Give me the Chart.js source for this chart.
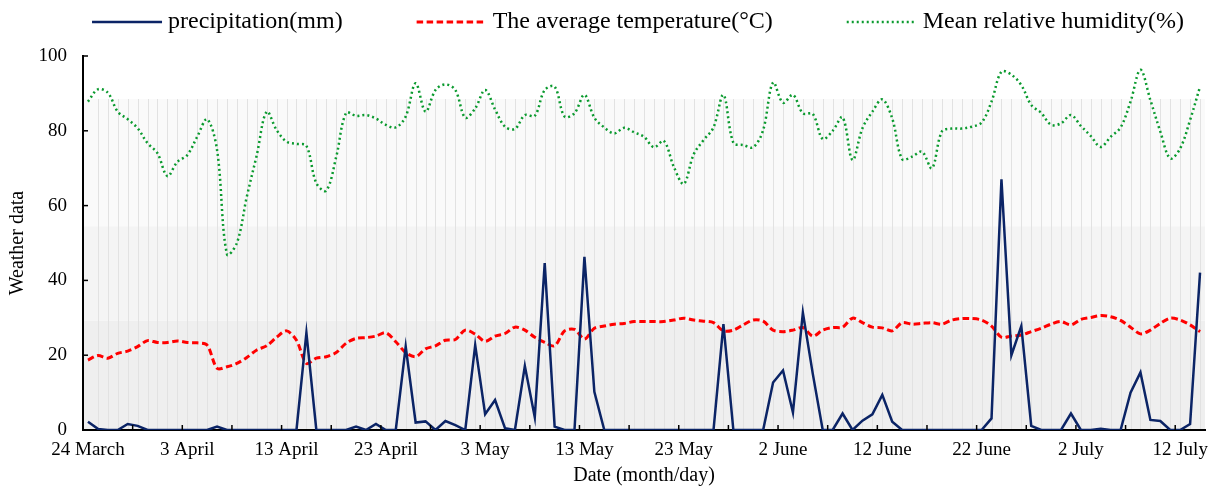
<!DOCTYPE html>
<html>
<head>
<meta charset="utf-8">
<script src="https://cdn.jsdelivr.net/npm/chart.js@4.4.1/dist/chart.umd.min.js"></script>
<style>
  html, body { margin: 0; padding: 0; background: #fff; }
  #wrap { width: 1213px; height: 488px; }
</style>
</head>
<body>
<div id="wrap"><canvas id="weatherChart"></canvas></div>
<script>
// 일별 기상 자료 (24 March ~ 14 July)
const months = [['March', 31], ['April', 30], ['May', 31], ['June', 30], ['July', 31]];
const dayCount = 113;

// precipitation(mm)
const precipitation = [
  2.2, 0.3, 0, 0, 1.6, 1.1, 0, 0, 0, 0,
  0, 0, 0, 0.9, 0, 0, 0, 0, 0, 0,
  0, 0, 26, 0, 0, 0, 0, 0.9, 0, 1.6,
  0, 0, 22.3, 2.0, 2.3, 0, 2.4, 1.3, 0, 22.7,
  4.2, 8.0, 0.5, 0, 17.1, 3.4, 44.6, 0.9, 0, 0,
  46.3, 10.2, 0, 0, 0, 0, 0, 0, 0, 0,
  0, 0, 0, 0, 28.3, 0, 0, 0, 0, 12.7,
  15.9, 4.7, 31.4, 15, 0, 0, 4.4, 0, 2.5, 4.2,
  9.4, 2.2, 0, 0, 0, 0, 0, 0, 0, 0,
  0, 3.1, 67, 20, 27.8, 1.1, 0, 0, 0, 4.4,
  0, 0, 0.3, 0, 0, 10.0, 15.4, 2.7, 2.4, 0,
  0, 1.6, 42.1
];

// The average temperature(°C)
const temperature = [
  18.7, 19.9, 19.2, 20.5, 21.1, 22.3, 23.9, 23.4, 23.4, 23.8,
  23.4, 23.3, 22.7, 16.5, 16.9, 17.8, 19.4, 21.4, 22.5, 24.8,
  26.5, 24.0, 17.8, 19.2, 19.6, 20.7, 23.2, 24.5, 24.7, 25.1,
  26.0, 23.6, 20.7, 19.6, 21.7, 22.5, 24.0, 24.2, 26.7, 25.6,
  23.7, 25.1, 25.8, 27.5, 26.7, 24.8, 23.4, 22.5, 26.5, 26.9,
  24.3, 27.2, 27.8, 28.3, 28.5, 29.0, 29.0, 29.0, 29.0, 29.4,
  29.9, 29.4, 29.1, 28.7, 26.5, 26.7, 28.1, 29.4, 29.1, 26.7,
  26.3, 26.7, 27.4, 25.1, 26.7, 27.4, 27.5, 29.9, 28.7, 27.5,
  27.3, 26.5, 28.7, 28.3, 28.5, 28.7, 28.3, 29.4, 29.8, 29.8,
  29.4, 27.8, 24.8, 25.1, 25.4, 26.3, 27.2, 28.3, 29.0, 28.1,
  29.6, 30.1, 30.6, 30.3, 29.3, 27.5, 25.7, 26.7, 28.5, 29.9,
  29.4, 28.1, 26.3
];

// Mean relative humidity(%)
const humidity = [
  87.8, 91.1, 90.2, 85.1, 83.1, 80.7, 76.7, 74.0, 67.9, 71.7,
  73.5, 78.4, 83.1, 74.9, 47.0, 50.0, 62.4, 73.5, 85.1, 80.2,
  77.1, 76.5, 76.0, 66.0, 64.0, 73.0, 84.8, 84.0, 84.2, 83.3,
  81.6, 80.9, 83.8, 92.7, 85.1, 90.9, 92.4, 90.9, 83.5, 86.0,
  90.9, 85.7, 81.1, 80.5, 84.2, 84.0, 90.9, 91.8, 83.8, 84.7,
  89.6, 83.5, 80.9, 79.3, 80.8, 79.6, 78.4, 75.6, 77.3, 70.4,
  65.8, 73.7, 77.5, 80.9, 89.6, 76.8, 76.2, 75.6, 80.2, 92.9,
  87.5, 89.6, 84.7, 84.5, 77.8, 80.0, 83.6, 72.2, 80.7, 85.1,
  88.4, 83.3, 72.4, 73.1, 74.4, 70.0, 79.8, 80.6, 80.6, 81.1,
  82.2, 87.8, 95.8, 95.0, 92.2, 86.9, 84.8, 81.6, 82.0, 84.2,
  81.3, 78.6, 75.7, 78.4, 80.9, 87.8, 96.3, 88.2, 79.8, 72.6,
  75.3, 82.9, 91.8
];

// 배경 띠 (y값 기준)
const bandTops = [29.2, 54.5, 88.5];
const bandColors = ['#efefef', '#f4f4f4', '#fafafa'];

// 날짜 라벨 생성
const dates = [];
let mi = 0, d = 24;
for (let i = 0; i < dayCount; i++) {
  dates.push(d + ' ' + months[mi][0]);
  d++;
  if (d > months[mi][1]) { d = 1; mi++; }
}

const serif = "'Liberation Serif', 'Times New Roman', serif";

const backdropPlugin = {
  id: 'backdrop',
  beforeDraw(chart) {
    const { ctx, chartArea: a, scales: { x, y } } = chart;
    ctx.save();
    let prev = 0;
    bandTops.forEach((top, k) => {
      const y0 = y.getPixelForValue(prev);
      const y1 = y.getPixelForValue(top);
      ctx.fillStyle = bandColors[k];
      ctx.fillRect(a.left, y1, a.right - a.left, y0 - y1);
      prev = top;
    });
    // 일별 세로선
    ctx.strokeStyle = '#e2e2e2';
    ctx.lineWidth = 1;
    const yTop = y.getPixelForValue(bandTops[bandTops.length - 1]);
    for (let i = 1; i < dates.length; i++) {
      const px = Math.round(x.getPixelForValue(i)) + 0.5;
      ctx.beginPath();
      ctx.moveTo(px, a.bottom);
      ctx.lineTo(px, yTop);
      ctx.stroke();
    }
    ctx.restore();
  },
  afterDraw(chart) {
    const { ctx, chartArea: a, scales: { x, y } } = chart;
    ctx.save();
    // 눈금 (안쪽)
    ctx.strokeStyle = '#000';
    ctx.lineWidth = 1.5;
    y.ticks.forEach(t => {
      const py = y.getPixelForValue(t.value);
      ctx.beginPath();
      ctx.moveTo(a.left, py);
      ctx.lineTo(a.left + 5, py);
      ctx.stroke();
    });
    for (let i = 4; i < dates.length - 1; i += 5) {
      const px = (x.getPixelForValue(i) + x.getPixelForValue(i + 1)) / 2;
      ctx.beginPath();
      ctx.moveTo(px, a.bottom);
      ctx.lineTo(px, a.bottom - 5);
      ctx.stroke();
    }

    // 범례
    ctx.font = '24px ' + serif;
    ctx.textBaseline = 'middle';
    ctx.textAlign = 'left';
    const sample = 70, textGap = 6, itemGap = 74, centerX = 638, legendY = 22;
    const sets = chart.data.datasets;
    const widths = sets.map(ds => sample + textGap + ctx.measureText(ds.label).width);
    const total = widths.reduce((s, w) => s + w, 0) + itemGap * (sets.length - 1);
    let cx = centerX - total / 2;
    sets.forEach((ds, k) => {
      ctx.strokeStyle = ds.borderColor;
      ctx.lineWidth = ds.borderWidth;
      ctx.setLineDash(ds.borderDash || []);
      ctx.beginPath();
      ctx.moveTo(cx, legendY);
      ctx.lineTo(cx + sample, legendY);
      ctx.stroke();
      ctx.setLineDash([]);
      ctx.fillStyle = '#000';
      ctx.fillText(ds.label, cx + sample + textGap, legendY);
      cx += widths[k] + itemGap;
    });
    ctx.restore();
  }
};

new Chart(document.getElementById('weatherChart'), {
  type: 'line',
  data: {
    labels: dates,
    datasets: [
      {
        label: 'precipitation(mm)',
        data: precipitation,
        borderColor: '#0b2466',
        borderWidth: 2.5,
        pointRadius: 0,
        tension: 0,
        fill: false
      },
      {
        label: 'The average temperature(°C)',
        data: temperature,
        borderColor: '#ff0000',
        borderWidth: 3,
        borderDash: [6.5, 3.5],
        pointRadius: 0,
        tension: 0.3,
        fill: false
      },
      {
        label: 'Mean relative humidity(%)',
        data: humidity,
        borderColor: '#0a9a2e',
        borderWidth: 2.5,
        borderDash: [2, 3],
        pointRadius: 0,
        tension: 0.35,
        fill: false
      }
    ]
  },
  options: {
    responsive: true,
    maintainAspectRatio: false,
    animation: false,
    devicePixelRatio: 1,
    layout: {
      padding: { top: 56, right: 8, bottom: 0, left: 0 }
    },
    plugins: {
      legend: { display: false },
      tooltip: { enabled: false }
    },
    scales: {
      x: {
        offset: true,
        grid: { display: false, drawTicks: false },
        border: { display: true, color: '#000', width: 2 },
        ticks: {
          autoSkip: false,
          maxRotation: 0,
          padding: 9,
          color: '#000',
          font: { family: serif, size: 19 },
          callback(value, index) {
            return index % 10 === 0 ? dates[index] : '';
          }
        },
        title: {
          display: true,
          text: 'Date (month/day)',
          color: '#000',
          font: { family: serif, size: 20 },
          padding: { top: 0, bottom: 0 }
        },
        afterFit(scale) { scale.height = 58; }
      },
      y: {
        min: 0,
        max: 100,
        grid: { display: false, drawTicks: false },
        border: { display: true, color: '#000', width: 2 },
        ticks: {
          stepSize: 20,
          padding: 16,
          color: '#000',
          font: { family: serif, size: 19 }
        },
        title: {
          display: true,
          text: 'Weather data',
          color: '#000',
          font: { family: serif, size: 20 },
          padding: { top: 6, bottom: 0 }
        },
        afterFit(scale) { scale.width = 83; }
      }
    }
  },
  plugins: [backdropPlugin]
});
</script>
</body>
</html>
